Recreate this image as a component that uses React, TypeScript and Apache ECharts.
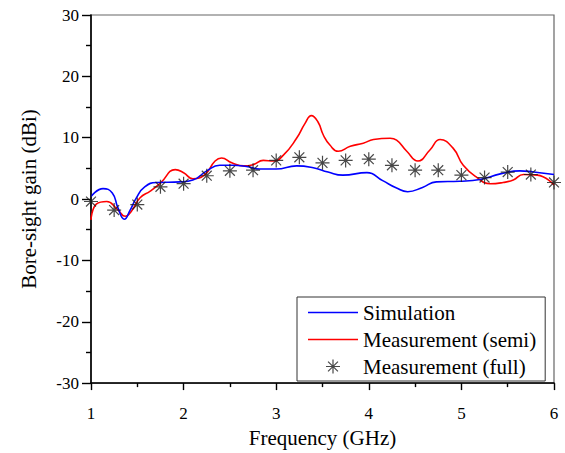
import React, { useEffect, useRef } from "react";
import * as echarts from "echarts";

const simFreq = [1.0, 1.13, 1.23, 1.29, 1.36, 1.42, 1.49, 1.58, 1.71, 1.96, 2.1, 2.25, 2.39, 2.53, 2.68, 2.82, 3.0, 3.22, 3.4, 3.56, 3.72, 3.98, 4.15, 4.3, 4.42, 4.58, 4.73, 4.98, 5.2, 5.42, 5.63, 5.78, 6.0];
const simGain = [0.4, 1.7, 1.0, -1.4, -3.3, -1.9, 0.2, 2.0, 2.7, 2.8, 3.1, 4.6, 5.5, 5.5, 5.3, 4.9, 4.9, 5.4, 5.1, 4.4, 3.9, 4.3, 3.0, 1.8, 1.2, 1.9, 2.8, 2.9, 3.2, 4.1, 4.6, 4.4, 4.0];

const semiFreq = [1.0, 1.06, 1.17, 1.28, 1.37, 1.44, 1.53, 1.64, 1.75, 1.91, 2.0, 2.1, 2.23, 2.34, 2.41, 2.52, 2.65, 2.75, 2.86, 2.97, 3.08, 3.22, 3.31, 3.38, 3.45, 3.51, 3.58, 3.67, 3.8, 3.94, 4.05, 4.23, 4.3, 4.41, 4.53, 4.66, 4.77, 4.91, 5.02, 5.17, 5.31, 5.45, 5.56, 5.67, 5.82, 6.0];
const semiGain = [-3.4, -0.8, -0.4, -1.6, -2.8, -1.9, 0.2, 1.3, 2.6, 4.8, 4.3, 3.3, 4.0, 6.2, 6.7, 5.9, 5.4, 5.6, 6.3, 6.2, 7.2, 9.9, 12.3, 13.6, 12.6, 10.4, 8.8, 7.8, 8.6, 9.1, 9.7, 9.9, 9.6, 7.8, 6.2, 8.0, 9.7, 8.3, 5.5, 3.5, 2.5, 2.7, 3.1, 4.0, 3.9, 2.3];

const fullFreq = [1.0, 1.25, 1.5, 1.75, 2.0, 2.25, 2.5, 2.75, 3.0, 3.25, 3.5, 3.75, 4.0, 4.25, 4.5, 4.75, 5.0, 5.25, 5.5, 5.75, 6.0];
const fullGain = [-0.4, -1.8, -0.9, 2.0, 2.5, 3.8, 4.6, 4.7, 6.3, 6.8, 5.9, 6.3, 6.5, 5.5, 4.7, 4.7, 3.9, 3.5, 4.4, 4.0, 2.7];

const seriesNames = ["Simulation", "Measurement (semi)", "Measurement (full)"];

const ASTERISK =
  "path://M-0.6,-7 L0.6,-7 L0.6,7 L-0.6,7 Z M-7,-0.6 L7,-0.6 L7,0.6 L-7,0.6 Z " +
  "M-5.374,-4.526 L-4.526,-5.374 L5.374,4.526 L4.526,5.374 Z " +
  "M4.526,-5.374 L5.374,-4.526 L-4.526,5.374 L-5.374,4.526 Z";
const LINE_ICON = "path://M0,0 L50,0 L50,1.6 L0,1.6 Z";

const FONT = "Liberation Serif";

export default function App() {
  const ref = useRef<HTMLDivElement>(null);
  useEffect(() => {
    if (!ref.current) return;
    const chart = echarts.init(ref.current, undefined, { renderer: "svg" });
    const zip = (xs: number[], ys: number[]) => xs.map((x, i) => [x, ys[i]]);
    chart.setOption({
      animation: false,
      backgroundColor: "#fff",
      textStyle: { fontFamily: FONT, color: "#000" },
      grid: {
        left: 91,
        top: 15,
        right: 11,
        bottom: 65,
        show: true,
        borderColor: "#666",
        borderWidth: 1.2,
        backgroundColor: "transparent",
      },
      legend: {
        orient: "vertical",
        left: 297,
        top: 297,
        itemWidth: 50,
        itemHeight: 14,
        itemGap: 6,
        padding: [5, 9, 4, 11],
        borderColor: "#333",
        borderWidth: 1,
        backgroundColor: "#fff",
        textStyle: { fontFamily: FONT, fontSize: 21, color: "#000" },
        data: [
          { name: seriesNames[0], icon: LINE_ICON },
          { name: seriesNames[1], icon: LINE_ICON },
          { name: seriesNames[2], icon: ASTERISK },
        ],
      },
      xAxis: {
        type: "value",
        min: 1,
        max: 6,
        interval: 1,
        name: "Frequency (GHz)",
        nameLocation: "middle",
        nameGap: 42,
        nameTextStyle: { fontFamily: FONT, fontSize: 21, color: "#000" },
        axisLine: { show: true, onZero: false, lineStyle: { color: "#000", width: 1.6 } },
        axisTick: { show: true, inside: false, length: 7, lineStyle: { color: "#000", width: 1.4 } },
        minorTick: { show: true, splitNumber: 2, length: 4, lineStyle: { color: "#000", width: 1.4 } },
        axisLabel: { fontFamily: FONT, fontSize: 17, color: "#000", margin: 22 },
        splitLine: { show: false },
      },
      yAxis: {
        type: "value",
        min: -30,
        max: 30,
        interval: 10,
        name: "Bore-sight gain (dBi)",
        nameLocation: "middle",
        nameGap: 52,
        nameTextStyle: { fontFamily: FONT, fontSize: 21, color: "#000" },
        axisLine: { show: true, onZero: false, lineStyle: { color: "#000", width: 1.6 } },
        axisTick: { show: true, inside: false, length: 9, lineStyle: { color: "#000", width: 1.4 } },
        minorTick: { show: true, splitNumber: 2, length: 5, lineStyle: { color: "#000", width: 1.4 } },
        axisLabel: { fontFamily: FONT, fontSize: 17, color: "#000", margin: 12 },
        splitLine: { show: false },
      },
      series: [
        {
          name: seriesNames[0],
          type: "line",
          data: zip(simFreq, simGain),
          smooth: 0.5,
          symbol: "none",
          lineStyle: { color: "#0000ff", width: 1.6 },
          itemStyle: { color: "#0000ff" },
          z: 3,
        },
        {
          name: seriesNames[1],
          type: "line",
          data: zip(semiFreq, semiGain),
          smooth: 0.5,
          symbol: "none",
          lineStyle: { color: "#ff0000", width: 1.6 },
          itemStyle: { color: "#ff0000" },
          z: 2,
        },
        {
          name: seriesNames[2],
          type: "scatter",
          data: zip(fullFreq, fullGain),
          symbol: ASTERISK,
          symbolSize: 14,
          itemStyle: { color: "#1a1a1a" },
          clip: false,
          z: 4,
        },
      ],
    });
    return () => chart.dispose();
  }, []);
  return <div ref={ref} style={{ width: 565, height: 453, position: "absolute", left: 0, top: 0 }} />;
}
